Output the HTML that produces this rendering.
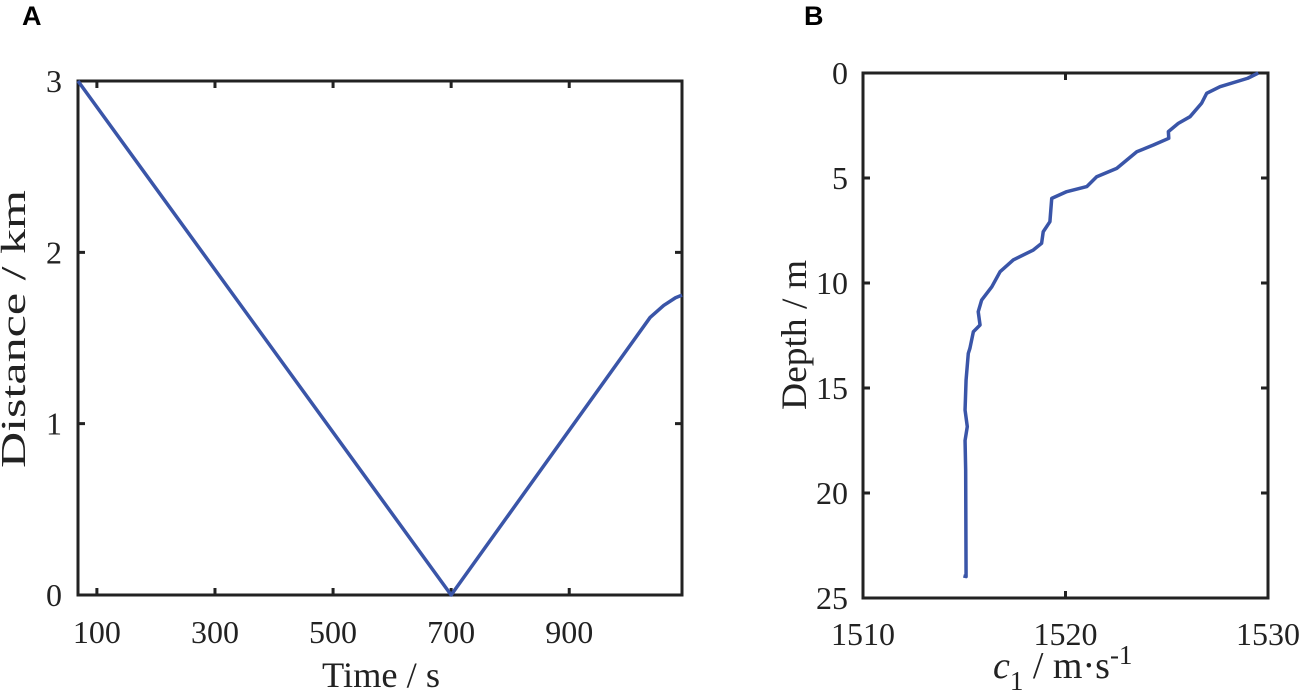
<!DOCTYPE html>
<html><head><meta charset="utf-8"><style>
html,body{margin:0;padding:0;background:#fff;}
svg{display:block;}
text{font-family:"Liberation Serif",serif;fill:#222;}
.lbl{font-family:"Liberation Sans",sans-serif;font-weight:bold;font-size:27px;fill:#000;}
</style></head><body>
<svg id="chart" width="1299" height="695" viewBox="0 0 1299 695">
<text class="lbl" x="22" y="25">A</text>
<text class="lbl" x="804" y="25">B</text>
<g id="pa"></g>
<g id="pb"></g>
</svg>
<script>
// Panel A data
const timeValues = [68, 700, 1037, 1060, 1080, 1091];
const distanceValues = [3, 0, 1.62, 1.69, 1.735, 1.75];
const aXTicks = [100, 300, 500, 700, 900];
const aYTicks = [0, 1, 2, 3];
// Panel B data
const soundSpeed = [1529.52,1529.0,1527.63,1526.97,1526.72,1526.15,1525.57,1525.08,1525.1,1524.34,1523.52,1522.53,1521.54,1521.05,1520.06,1519.32,1519.23,1518.9,1518.82,1518.41,1517.42,1516.77,1516.36,1515.86,1515.69,1515.78,1515.45,1515.28,1515.2,1515.09,1515.04,1515.15,1515.04,1515.07,1515.09,1514.96];
const depthValues = [0,0.25,0.65,0.97,1.44,2.08,2.4,2.79,3.11,3.43,3.75,4.54,4.94,5.41,5.65,5.97,7.08,7.56,8.11,8.43,8.9,9.46,10.18,10.81,11.37,12.0,12.32,13.11,13.35,14.62,16.05,16.84,17.5,18.9,23.98,23.95];
const bXTicks = [1510, 1520, 1530];
const bYTicks = [0, 5, 10, 15, 20, 25];

const NS='http://www.w3.org/2000/svg';
function mk(p,tag,attrs){const e=document.createElementNS(NS,tag);for(const k in attrs)e.setAttribute(k,attrs[k]);p.appendChild(e);return e;}

// Panel A axes
const aL=78,aR=682,aT=81,aB=595,aX0=68,aX1=1091;
const ax=t=>aL+(t-aX0)/(aX1-aX0)*(aR-aL);
const ay=d=>aB-d/3*(aB-aT);
const pa=document.getElementById('pa');
const fr=mk(pa,'rect',{x:aL,y:aT,width:aR-aL,height:aB-aT,fill:'none',stroke:'#222','stroke-width':3});


aXTicks.forEach(t=>{
  const x=ax(t);
  const tk=mk(pa,'path',{d:`M${x},${aB}v-7M${x},${aT}v7`,stroke:'#222','stroke-width':3});
  
  
  const tx=mk(pa,'text',{x:x,y:aB+48,'text-anchor':'middle','font-size':32});
  tx.textContent=t;
  
  
});
aYTicks.forEach(d=>{
  const y=ay(d);
  const tk=mk(pa,'path',{d:`M${aL},${y}h7M${aR},${y}h-7`,stroke:'#222','stroke-width':3});
  
  
  const tx=mk(pa,'text',{x:aL-16,y:y+11,'text-anchor':'end','font-size':32});
  tx.textContent=d;
  
  
});
const la=mk(pa,'polyline',{points:timeValues.map((t,i)=>ax(t)+','+ay(distanceValues[i])).join(' '),fill:'none',stroke:'#3a55a8','stroke-width':3.5,'stroke-linejoin':'round'});


const xa=mk(pa,'text',{x:322,y:687,'font-size':36,textLength:118,lengthAdjust:'spacingAndGlyphs'});
xa.textContent='Time / s';


const ya=mk(pa,'text',{x:-139,y:0,'font-size':35,textLength:278,lengthAdjust:'spacingAndGlyphs',transform:'translate(25,190) rotate(-90)'});
ya.setAttribute('x',-278);
ya.textContent='Distance / km';


ya.setAttribute('transform','translate(25,468) rotate(-90)');
ya.setAttribute('x',0);

// Panel B axes
const bL=863,bR=1268,bT=73,bB=598;
const bx=c=>bL+(c-1510)/20*(bR-bL);
const by=d=>bT+d/25*(bB-bT);
const pb=document.getElementById('pb');
const fb=mk(pb,'rect',{x:bL,y:bT,width:bR-bL,height:bB-bT,fill:'none',stroke:'#222','stroke-width':3});


bXTicks.forEach(c=>{
  const x=bx(c);
  const tk=mk(pb,'path',{d:`M${x},${bB}v-7M${x},${bT}v7`,stroke:'#222','stroke-width':3});
  
  
  const tx=mk(pb,'text',{x:x,y:645,'text-anchor':'middle','font-size':32});
  tx.textContent=c;
  
  
});
bYTicks.forEach(d=>{
  const y=by(d);
  const tk=mk(pb,'path',{d:`M${bL},${y}h7M${bR},${y}h-7`,stroke:'#222','stroke-width':3});
  
  
  const tx=mk(pb,'text',{x:bL-15,y:y+11,'text-anchor':'end','font-size':32});
  tx.textContent=d;
  
  
});
const lb=mk(pb,'polyline',{points:soundSpeed.map((c,i)=>bx(c)+','+by(depthValues[i])).join(' '),fill:'none',stroke:'#3a55a8','stroke-width':3.5,'stroke-linejoin':'round'});


const xb=mk(pb,'text',{x:993,y:678,'font-size':38});
xb.innerHTML='<tspan font-style="italic">c</tspan><tspan font-size="27" dy="12">1</tspan><tspan dy="-12"> / m·s</tspan><tspan font-size="27" dy="-14">-1</tspan>';


const yb=mk(pb,'text',{x:0,y:0,'font-size':36,textLength:150,lengthAdjust:'spacingAndGlyphs',transform:'translate(806,410) rotate(-90)'});
yb.textContent='Depth / m';


</script>
</body></html>
